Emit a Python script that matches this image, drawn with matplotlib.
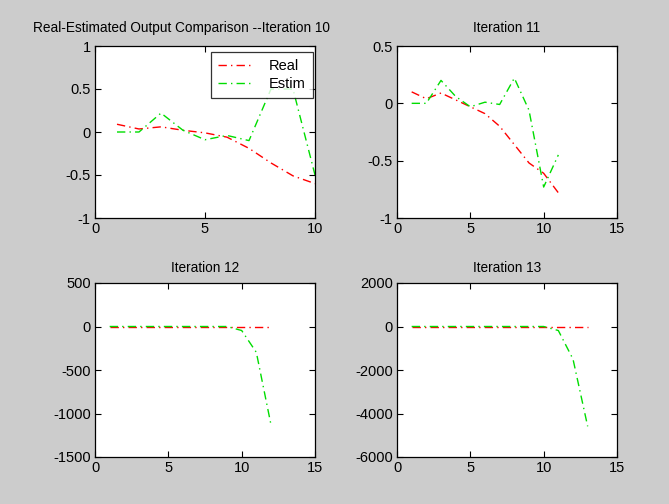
import numpy as np
import matplotlib
matplotlib.use("Agg")
import matplotlib.pyplot as plt

plt.rcParams['font.family'] = ['Liberation Sans', 'DejaVu Sans']

# data (iterations 10..13)
x10 = [1, 2, 3, 4, 5, 6, 7, 8, 9, 10]
real10 = [0.09, 0.035, 0.06, 0.02, -0.01, -0.06, -0.19, -0.36, -0.51, -0.6]
estim10 = [0.0, 0.0, 0.22, 0.02, -0.09, -0.04, -0.1, 0.5, 0.5, -0.5]

x11 = [1, 2, 3, 4, 5, 6, 7, 8, 9, 10, 11]
real11 = [0.1, 0.04, 0.09, 0.03, -0.03, -0.09, -0.2, -0.36, -0.52, -0.61, -0.78]
estim11 = [0.0, 0.0, 0.2, 0.06, -0.03, 0.01, -0.01, 0.22, -0.06, -0.73, -0.45]

x12 = [1, 2, 3, 4, 5, 6, 7, 8, 9, 10, 11, 12]
real12 = [0, 0, 0, 0, 0, 0, 0, 0, 0, 0, 0, 0]
estim12 = [0, 0, 0, 0, 0, 0, 0, 0, 0, -46, -297, -1130]

x13 = [1, 2, 3, 4, 5, 6, 7, 8, 9, 10, 11, 12, 13]
real13 = [0, 0, 0, 0, 0, 0, 0, 0, 0, 0, 0, 0, 0]
estim13 = [0, 0, 0, 0, 0, 0, 0, 0, 0, 0, -185, -1500, -4590]

titles = ['Real-Estimated Output Comparison --Iteration 10',
          'Iteration 11', 'Iteration 12', 'Iteration 13']
xlims = [(0, 10), (0, 15), (0, 15), (0, 15)]
xticks = [[0, 5, 10], [0, 5, 10, 15], [0, 5, 10, 15], [0, 5, 10, 15]]
ylims = [(-1, 1), (-1, 0.5), (-1500, 500), (-6000, 2000)]
yticks = [[-1, -0.5, 0, 0.5, 1], [-1, -0.5, 0, 0.5],
          [-1500, -1000, -500, 0, 500], [-6000, -4000, -2000, 0, 2000]]
ylabels = [['-1', '-0.5', '0', '0.5', '1'], ['-1', '-0.5', '0', '0.5'],
           ['-1500', '-1000', '-500', '0', '500'],
           ['-6000', '-4000', '-2000', '0', '2000']]

series = [(x10, real10, estim10), (x11, real11, estim11),
          (x12, real12, estim12), (x13, real13, estim13)]

W, H = 669, 504
fig = plt.figure(figsize=(W / 100, H / 100), dpi=100, facecolor='#cccccc')

# axes boxes in pixels: left, top, right, bottom
boxes = [(95, 46, 315, 218), (397, 46, 617, 218),
         (95, 283, 315, 457), (397, 283, 617, 457)]

red = '#ff0000'
green = '#00dd00'
dash = (6, 3, 1, 3)

for i, (l, t, r, b) in enumerate(boxes):
    ax = fig.add_axes([l / W, 1 - b / H, (r - l) / W, (b - t) / H])
    xs, re, es = series[i]
    ax.plot(xs, re, color=red, lw=1.0, dashes=dash, label='Real')
    ax.plot(xs, es, color=green, lw=1.0, dashes=dash, label='Estim')
    ax.set_xlim(*xlims[i])
    ax.set_ylim(*ylims[i])
    ax.set_xticks(xticks[i])
    ax.set_yticks(yticks[i])
    ax.set_yticklabels(ylabels[i])
    ax.tick_params(direction='in', length=4, width=0.8, top=True, right=True,
                   labelsize=10.5, pad=3, colors='black')
    for s in ax.spines.values():
        s.set_linewidth(0.9)
    ax.set_facecolor('white')
    tpad = 10 if i < 2 else 8
    if i == 0:
        ax.set_title(titles[i], fontsize=9.8, pad=tpad, x=0.395)
        leg = ax.legend(loc='upper right', bbox_to_anchor=(0.991, 0.965),
                        fancybox=False, edgecolor='black', fontsize=10.5,
                        handlelength=2.2, borderaxespad=0,
                        labelspacing=0.25, handletextpad=1.3, borderpad=0.5)
        leg.get_frame().set_linewidth(0.9)
    else:
        ax.set_title(titles[i], fontsize=9.8, pad=tpad)

fig.savefig('out.png', dpi=100, facecolor=fig.get_facecolor())
